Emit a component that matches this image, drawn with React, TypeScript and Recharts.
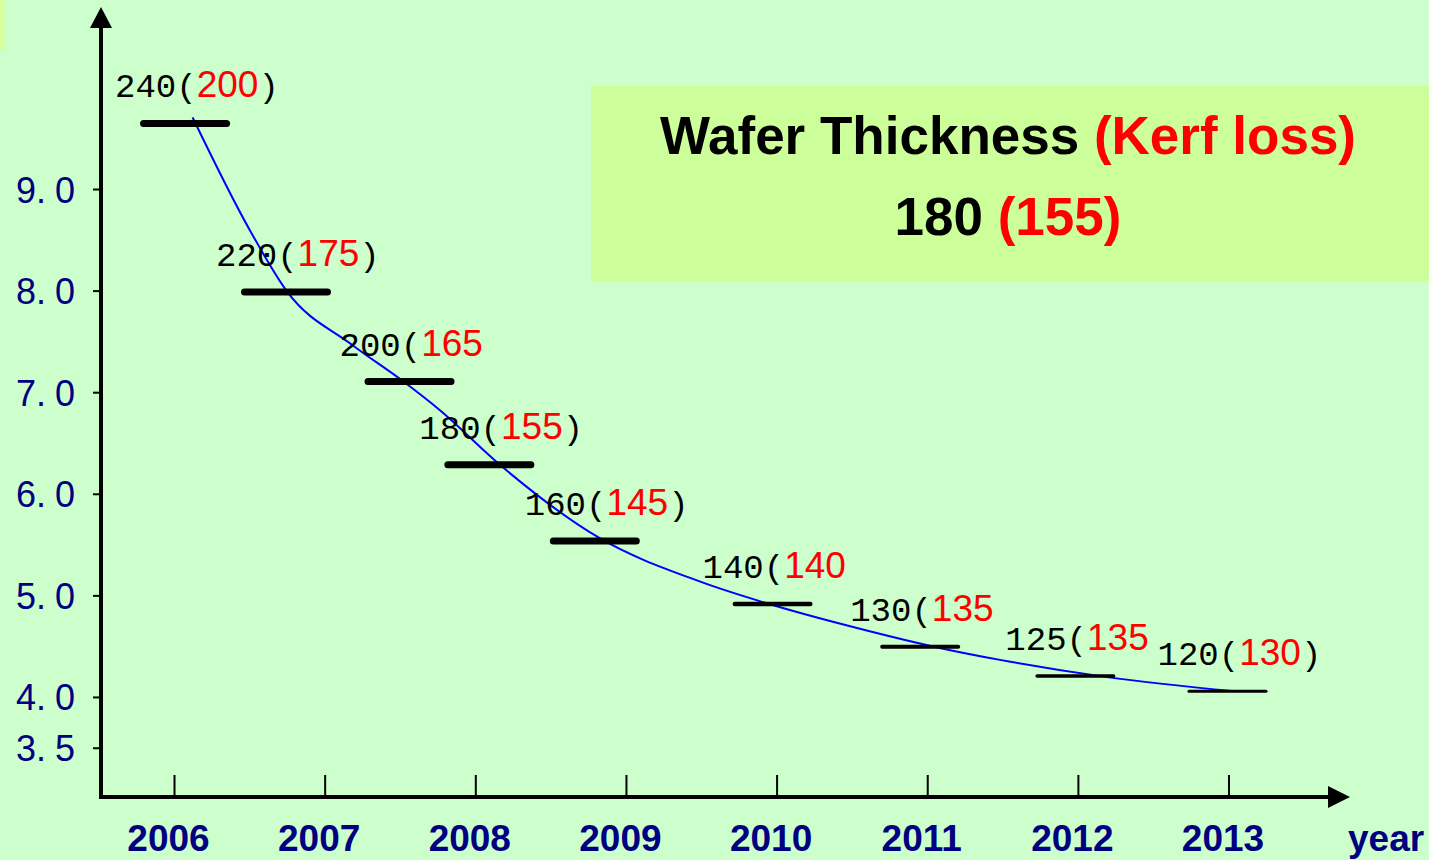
import React from "react";
import {
  ComposedChart,
  Line,
  Scatter,
  XAxis,
  YAxis,
  ReferenceDot,
} from "recharts";

// x axis: years, y axis: scale values
const years = [2006, 2007, 2008, 2009, 2010, 2011, 2012, 2013];
const yTicks = [3.5, 4, 5, 6, 7, 8, 9];

// horizontal steps (wafer thickness / kerf loss, in µm)
const stepYear = [2006.07, 2006.74, 2007.56, 2008.09, 2008.79, 2009.97, 2010.95, 2011.98, 2012.99];
const stepValue = [9.65, 7.99, 7.11, 6.29, 5.54, 4.92, 4.5, 4.21, 4.06];
const thickness = [240, 220, 200, 180, 160, 140, 130, 125, 120];
const kerfLoss = [200, 175, 165, 155, 145, 140, 135, 135, 130];
const closedParen = [true, true, false, true, true, false, false, false, true];

// blue trend curve
const curveYear = [2006.12, 2006.5, 2006.75, 2007.18, 2007.52, 2007.76, 2008.16, 2008.82, 2009.49, 2009.97, 2010.46, 2011.04, 2011.48, 2012.19, 2013.04];
const curveValue = [9.71, 8.6, 7.99, 7.47, 7.11, 6.83, 6.29, 5.57, 5.14, 4.91, 4.71, 4.5, 4.37, 4.2, 4.06];

const X_DOMAIN: [number, number] = [2005.512, 2013.657];
const Y_DOMAIN: [number, number] = [3.02, 10.59];

const NAVY = "#000080";
const SANS = "'Liberation Sans', Arial, sans-serif";
const MONO = "'Liberation Mono', 'DejaVu Sans Mono', monospace";

const steps = stepYear.map((x, i) => ({
  i,
  x,
  y: stepValue[i],
  t: thickness[i],
  k: kerfLoss[i],
  closed: closedParen[i],
}));
const curve = curveYear.map((x, i) => ({ x, y: curveValue[i] }));

function StepMark(props: any) {
  const { cx, cy } = props;
  const p = props.payload ?? props;
  const i = p.i;
  const w = i < 5 ? 90 : 80;
  const sw = i < 5 ? 7 : 4.5 - (i - 5) * 0.5;
  return (
    <g>
      <line
        x1={cx - w / 2 + sw / 2}
        x2={cx + w / 2 - sw / 2}
        y1={cy}
        y2={cy}
        stroke="#000"
        strokeWidth={sw}
        strokeLinecap="round"
      />
      <text x={cx - 70} y={cy - 26} fontFamily={MONO} fontSize={34} fill="#000">
        {p.t}(
        <tspan fontFamily={SANS} fontSize={37} fill="#ff0000">
          {p.k}
        </tspan>
        {p.closed ? <tspan>)</tspan> : null}
      </text>
    </g>
  );
}

function XTick(props: any) {
  const { x, y, payload } = props;
  return (
    <g>
      <line x1={x} x2={x} y1={y - 54} y2={y - 76} stroke="#000" strokeWidth={2} />
      <text x={x - 6} y={y} textAnchor="middle" fontFamily={SANS} fontWeight="bold" fontSize={37} fill={NAVY}>
        {payload.value}
      </text>
    </g>
  );
}

function YTick(props: any) {
  const { x, y, payload } = props;
  const [a, b] = Number(payload.value).toFixed(1).split(".");
  return (
    <text x={x} y={y + 13} textAnchor="end" fontFamily={SANS} fontSize={36} fill={NAVY}>
      {a}.<tspan dx={9}>{b}</tspan>
    </text>
  );
}

function YearLabel(props: any) {
  const vb = props.viewBox || { x: 101, y: 797, width: 1227, height: 63 };
  return (
    <text x={vb.x + vb.width + 20} y={vb.y + 54} fontFamily={SANS} fontWeight="bold" fontSize={37} fill={NAVY}>
      year
    </text>
  );
}

export default function App() {
  return (
    <div
      style={{
        position: "absolute",
        left: 0,
        top: 0,
        width: 1429,
        height: 860,
        background: "#ccffcc",
        overflow: "hidden",
      }}
    >
      <div style={{ position: "absolute", left: 0, top: 0, width: 5, height: 50, background: "#d6ff9e" }} />
      <ComposedChart width={1429} height={860} margin={{ top: 28, right: 101, bottom: 0, left: 0 }}>
        <XAxis
          type="number"
          dataKey="x"
          domain={X_DOMAIN}
          allowDataOverflow
          ticks={years}
          interval={0}
          height={63}
          tickSize={0}
          tickMargin={54}
          tickLine={false}
          axisLine={{ stroke: "#000", strokeWidth: 4, strokeLinecap: "square" }}
          tick={(p: any) => <XTick {...p} />}
          label={(p: any) => <YearLabel {...p} />}
        />
        <YAxis
          type="number"
          dataKey="y"
          domain={Y_DOMAIN}
          allowDataOverflow
          ticks={yTicks}
          interval={0}
          width={101}
          tickSize={8}
          tickMargin={18}
          tickLine={{ stroke: "#000", strokeWidth: 2 }}
          axisLine={{ stroke: "#000", strokeWidth: 4, strokeLinecap: "square" }}
          tick={(p: any) => <YTick {...p} />}
        />
        <Scatter data={steps} shape={(p: any) => <StepMark {...p} />} isAnimationActive={false} />
        <Line
          data={curve}
          dataKey="y"
          type="monotone"
          stroke="#0000ff"
          strokeWidth={2}
          dot={false}
          activeDot={false}
          isAnimationActive={false}
        />
        <ReferenceDot
          x={X_DOMAIN[1]}
          y={Y_DOMAIN[0]}
          r={0}
          ifOverflow="visible"
          shape={(p: any) => (
            <polygon points={`${p.cx},${p.cy - 11} ${p.cx},${p.cy + 11} ${p.cx + 22},${p.cy}`} fill="#000" />
          )}
        />
        <ReferenceDot
          x={X_DOMAIN[0]}
          y={Y_DOMAIN[1]}
          r={0}
          ifOverflow="visible"
          shape={(p: any) => (
            <polygon points={`${p.cx - 11},${p.cy} ${p.cx + 11},${p.cy} ${p.cx},${p.cy - 21}`} fill="#000" />
          )}
        />
      </ComposedChart>
      <svg style={{ position: "absolute", left: 591, top: 86 }} width={838} height={195}>
        <rect width={838} height={195} fill="#ccff99" />
        <text x={417} y={68} textAnchor="middle" fontFamily={SANS} fontWeight="bold" fontSize={53} fill="#000">
          Wafer Thickness <tspan fill="#ff0000">(Kerf loss)</tspan>
        </text>
        <text x={417} y={149} textAnchor="middle" fontFamily={SANS} fontWeight="bold" fontSize={53} fill="#000">
          180 <tspan fill="#ff0000">(155)</tspan>
        </text>
      </svg>
    </div>
  );
}
